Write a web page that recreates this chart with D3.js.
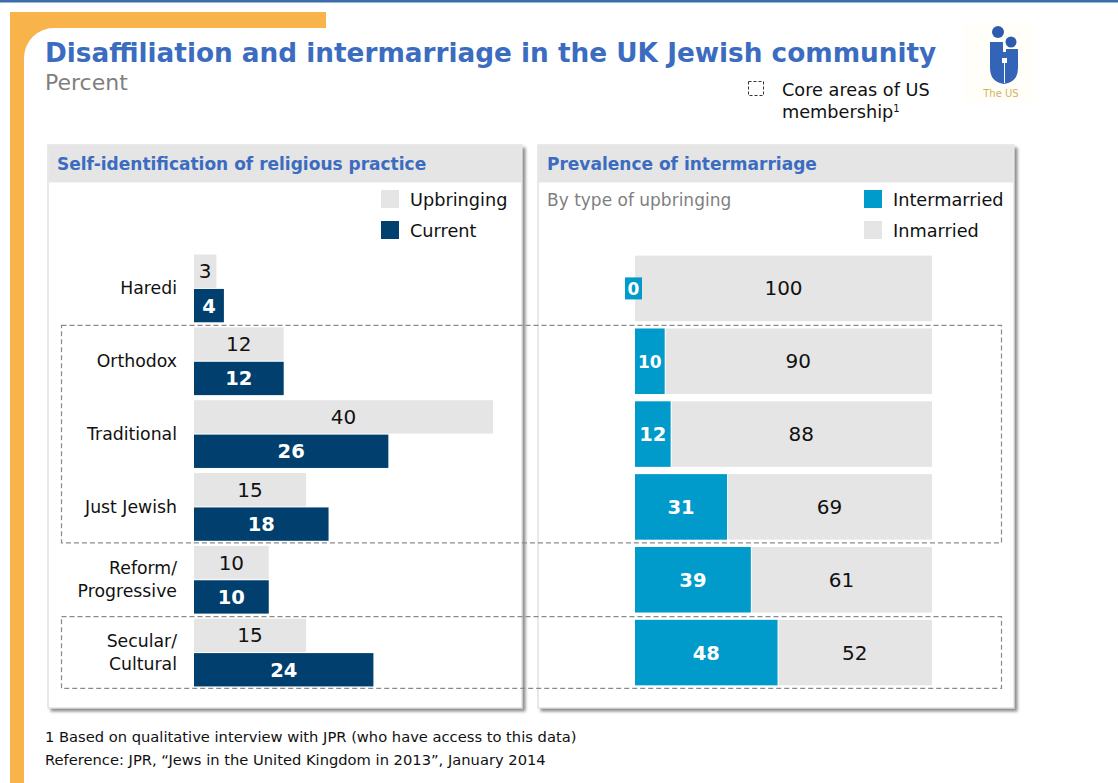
<!DOCTYPE html>
<html>
<head>
<meta charset="utf-8">
<script src="https://cdn.jsdelivr.net/npm/d3@7"></script>
<style>
  html, body { margin: 0; padding: 0; background: #fff; }
  svg { display: block; font-family: "DejaVu Sans", Verdana, sans-serif; }
</style>
</head>
<body>
<svg id="chart" width="1118" height="783"></svg>
<script>
// Religious practice categories and survey shares (percent)
const categories = ["Haredi", "Orthodox", "Traditional", "Just Jewish", "Reform/Progressive", "Secular/Cultural"];
const upbringing = [3, 12, 40, 15, 10, 15];
const current = [4, 12, 26, 18, 10, 24];
const intermarried = [0, 10, 12, 31, 39, 48];
const inmarried = [100, 90, 88, 69, 61, 52];
// Groups of categories outlined as core areas of membership
const coreAreas = [["Orthodox", "Just Jewish"], ["Secular/Cultural", "Secular/Cultural"]];

const C = {
  blueTitle: "#3B6CC0",
  navy: "#003F6E",
  cyan: "#009ACB",
  gray: "#E5E5E5",
  orange: "#F8B34B",
  text: "#111"
};

const svg = d3.select("#chart");
const defs = svg.append("defs");
const shadow = defs.append("filter").attr("id", "shadow")
  .attr("x", "-5%").attr("y", "-5%").attr("width", "115%").attr("height", "115%");
shadow.append("feDropShadow").attr("dx", 3).attr("dy", 3).attr("stdDeviation", 1.6)
  .attr("flood-color", "#000").attr("flood-opacity", 0.45);

// Page frame: top rule and orange corner bracket
svg.append("rect").attr("x", 0).attr("y", 0).attr("width", 1118).attr("height", 2.5).attr("fill", "#3A6EA5");
svg.append("rect").attr("x", 10).attr("y", 12).attr("width", 316).attr("height", 771).attr("fill", C.orange);
svg.append("rect").attr("x", 24).attr("y", 28).attr("width", 1200).attr("height", 900).attr("rx", 30).attr("fill", "#fff");

// Title block
svg.append("text").attr("x", 45).attr("y", 62).attr("fill", C.blueTitle)
  .attr("font-weight", "bold").attr("font-size", 26.3)
  .text("Disaffiliation and intermarriage in the UK Jewish community");
svg.append("text").attr("x", 45).attr("y", 90).attr("fill", "#7F7F7F")
  .attr("font-size", 22).text("Percent");

// Core areas key
svg.append("rect").attr("x", 748.5).attr("y", 81.5).attr("width", 15).attr("height", 14)
  .attr("fill", "none").attr("stroke", "#333").attr("stroke-width", 1).attr("stroke-dasharray", "3,2");
const coreKey = svg.append("text").attr("x", 782).attr("font-size", 17.7).attr("fill", C.text);
coreKey.append("tspan").attr("x", 782).attr("y", 96).text("Core areas of US");
coreKey.append("tspan").attr("x", 782).attr("y", 118).text("membership");
coreKey.append("tspan").attr("dy", -6).attr("font-size", 10).text("1");

// Logo mark
const logo = svg.append("g");
logo.append("rect").attr("x", 963).attr("y", 22).attr("width", 70).attr("height", 80).attr("fill", "#FFFEF9");
logo.append("circle").attr("cx", 998).attr("cy", 32).attr("r", 6).attr("fill", "#2F5BAF");
logo.append("circle").attr("cx", 1011).attr("cy", 42).attr("r", 5.5).attr("fill", "#2F5BAF");
logo.append("path").attr("fill", "#3464B8")
  .attr("d", "M990,42 L1003,42 L1003,52 L1006,52 L1006,49 L1018,49 L1018,68 Q1018,82 1004,84 Q990,82 990,68 Z");
logo.append("rect").attr("x", 1002).attr("y", 58).attr("width", 5).attr("height", 5).attr("fill", "#fff");
logo.append("line").attr("x1", 1004.5).attr("x2", 1004.5).attr("y1", 63).attr("y2", 83).attr("stroke", "#fff").attr("stroke-width", 1);
logo.append("text").attr("x", 1001).attr("y", 97).attr("text-anchor", "middle")
  .attr("font-size", 10).attr("fill", "#D4B35A").text("The US");

// Panels
function panel(x, w, title) {
  const g = svg.append("g");
  g.append("rect").attr("x", x).attr("y", 145).attr("width", w).attr("height", 563)
    .attr("fill", "#fff").attr("stroke", "#D4D4D4").attr("filter", "url(#shadow)");
  g.append("rect").attr("x", x + 0.5).attr("y", 145.5).attr("width", w - 1).attr("height", 37).attr("fill", C.gray);
  g.append("text").attr("x", x + 9).attr("y", 170).attr("fill", C.blueTitle)
    .attr("font-weight", "bold").attr("font-size", 17).text(title);
  return g;
}
panel(48, 474, "Self-identification of religious practice");
panel(538, 476, "Prevalence of intermarriage");

svg.append("text").attr("x", 547).attr("y", 206).attr("fill", "#7F7F7F")
  .attr("font-size", 17).text("By type of upbringing");

function legend(x, items) {
  items.forEach((it, i) => {
    const y = 190 + i * 31;
    svg.append("rect").attr("x", x).attr("y", y).attr("width", 18).attr("height", 18).attr("fill", it.color);
    svg.append("text").attr("x", x + 29).attr("y", y + 16).attr("font-size", 17.7)
      .attr("fill", C.text).text(it.label);
  });
}
legend(381, [{label: "Upbringing", color: C.gray}, {label: "Current", color: C.navy}]);
legend(864, [{label: "Intermarried", color: C.cyan}, {label: "Inmarried", color: C.gray}]);

// Scales
const y = d3.scaleBand().domain(categories).range([252, 689]).paddingInner(0.07).paddingOuter(0.035);
const sub = d3.scaleBand().domain(["up", "cur"]).range([0, y.bandwidth()]).paddingInner(0.03);
const yR = d3.scaleBand().domain(categories).range([252, 689]).paddingInner(0.1).paddingOuter(0.05);
const xL = d3.scaleLinear().domain([0, 40]).range([194, 493]);
const xR = d3.scaleLinear().domain([0, 100]).range([635, 932]);

const rows = categories.map((c, i) => ({
  cat: c, up: upbringing[i], cur: current[i], inter: intermarried[i], inm: inmarried[i]
}));

// Category labels
const lab = svg.append("g").selectAll("text").data(rows).join("text")
  .attr("text-anchor", "end").attr("font-size", 17.3).attr("fill", C.text);
lab.each(function(d) {
  const parts = d.cat.includes("/") ? [d.cat.split("/")[0] + "/", d.cat.split("/")[1]] : [d.cat];
  const cy = y(d.cat) + y.bandwidth() / 2;
  const t = d3.select(this);
  parts.forEach((p, k) => {
    t.append("tspan").attr("x", 177)
      .attr("y", cy + 6 + (k - (parts.length - 1) / 2) * 23)
      .text(p);
  });
});

// Left panel bars
const left = svg.append("g");
left.selectAll(".up").data(rows).join("rect")
  .attr("x", xL(0)).attr("y", d => y(d.cat) + sub("up"))
  .attr("width", d => xL(d.up) - xL(0)).attr("height", sub.bandwidth()).attr("fill", C.gray);
left.selectAll(".cur").data(rows).join("rect")
  .attr("x", xL(0)).attr("y", d => y(d.cat) + sub("cur"))
  .attr("width", d => xL(d.cur) - xL(0)).attr("height", sub.bandwidth()).attr("fill", C.navy);
left.selectAll(".upl").data(rows).join("text")
  .attr("x", d => (xL(0) + xL(d.up)) / 2).attr("y", d => y(d.cat) + sub("up") + sub.bandwidth() / 2 + 7)
  .attr("text-anchor", "middle").attr("font-size", 20).attr("fill", C.text).text(d => d.up);
left.selectAll(".curl").data(rows).join("text")
  .attr("x", d => (xL(0) + xL(d.cur)) / 2).attr("y", d => y(d.cat) + sub("cur") + sub.bandwidth() / 2 + 7)
  .attr("text-anchor", "middle").attr("font-size", 19.5).attr("font-weight", "bold").attr("fill", "#fff").text(d => d.cur);

// Right panel stacked bars
const right = svg.append("g");
right.selectAll(".inm").data(rows).join("rect")
  .attr("x", d => xR(d.inter) + (d.inter > 0 ? 1 : 0)).attr("y", d => yR(d.cat))
  .attr("width", d => xR(100) - xR(d.inter) - (d.inter > 0 ? 1 : 0)).attr("height", yR.bandwidth()).attr("fill", C.gray);
right.selectAll(".int").data(rows.filter(d => d.inter > 0)).join("rect")
  .attr("x", xR(0)).attr("y", d => yR(d.cat))
  .attr("width", d => xR(d.inter) - xR(0)).attr("height", yR.bandwidth()).attr("fill", C.cyan);
// zero-width segments keep their label in a small box at the axis start
right.selectAll(".zero").data(rows.filter(d => d.inter === 0)).join("rect")
  .attr("x", xR(0) - 10).attr("y", d => yR(d.cat) + yR.bandwidth() / 2 - 11)
  .attr("width", 17).attr("height", 22).attr("fill", C.cyan);
right.selectAll(".intl").data(rows).join("text")
  .attr("x", d => d.inter > 0 ? (xR(0) + xR(d.inter)) / 2 : xR(0) - 1.5)
  .attr("y", d => yR(d.cat) + yR.bandwidth() / 2 + 7)
  .attr("text-anchor", "middle")
  .attr("font-size", d => (xR(d.inter) - xR(0)) < 32 ? 17 : 19.5)
  .attr("font-weight", "bold").attr("fill", "#fff").text(d => d.inter);
right.selectAll(".inml").data(rows).join("text")
  .attr("x", d => (xR(d.inter) + xR(100)) / 2).attr("y", d => yR(d.cat) + yR.bandwidth() / 2 + 7)
  .attr("text-anchor", "middle").attr("font-size", 20).attr("fill", C.text).text(d => d.inm);

// Core area outlines spanning both panels
svg.append("g").selectAll("rect").data(coreAreas).join("rect")
  .attr("x", 61.5).attr("width", 940)
  .attr("y", d => y(d[0]) - 2)
  .attr("height", d => y(d[1]) + y.bandwidth() + 2 - (y(d[0]) - 2))
  .attr("fill", "none").attr("stroke", "#8A8A8A").attr("stroke-width", 1.2).attr("stroke-dasharray", "5,3");

// Footnotes
svg.append("text").attr("x", 45).attr("y", 742).attr("font-size", 14.7).attr("fill", C.text)
  .text("1 Based on qualitative interview with JPR (who have access to this data)");
svg.append("text").attr("x", 45).attr("y", 765).attr("font-size", 14.7).attr("fill", C.text)
  .text("Reference: JPR, \u201CJews in the United Kingdom in 2013\u201D, January 2014");
</script>
</body>
</html>
